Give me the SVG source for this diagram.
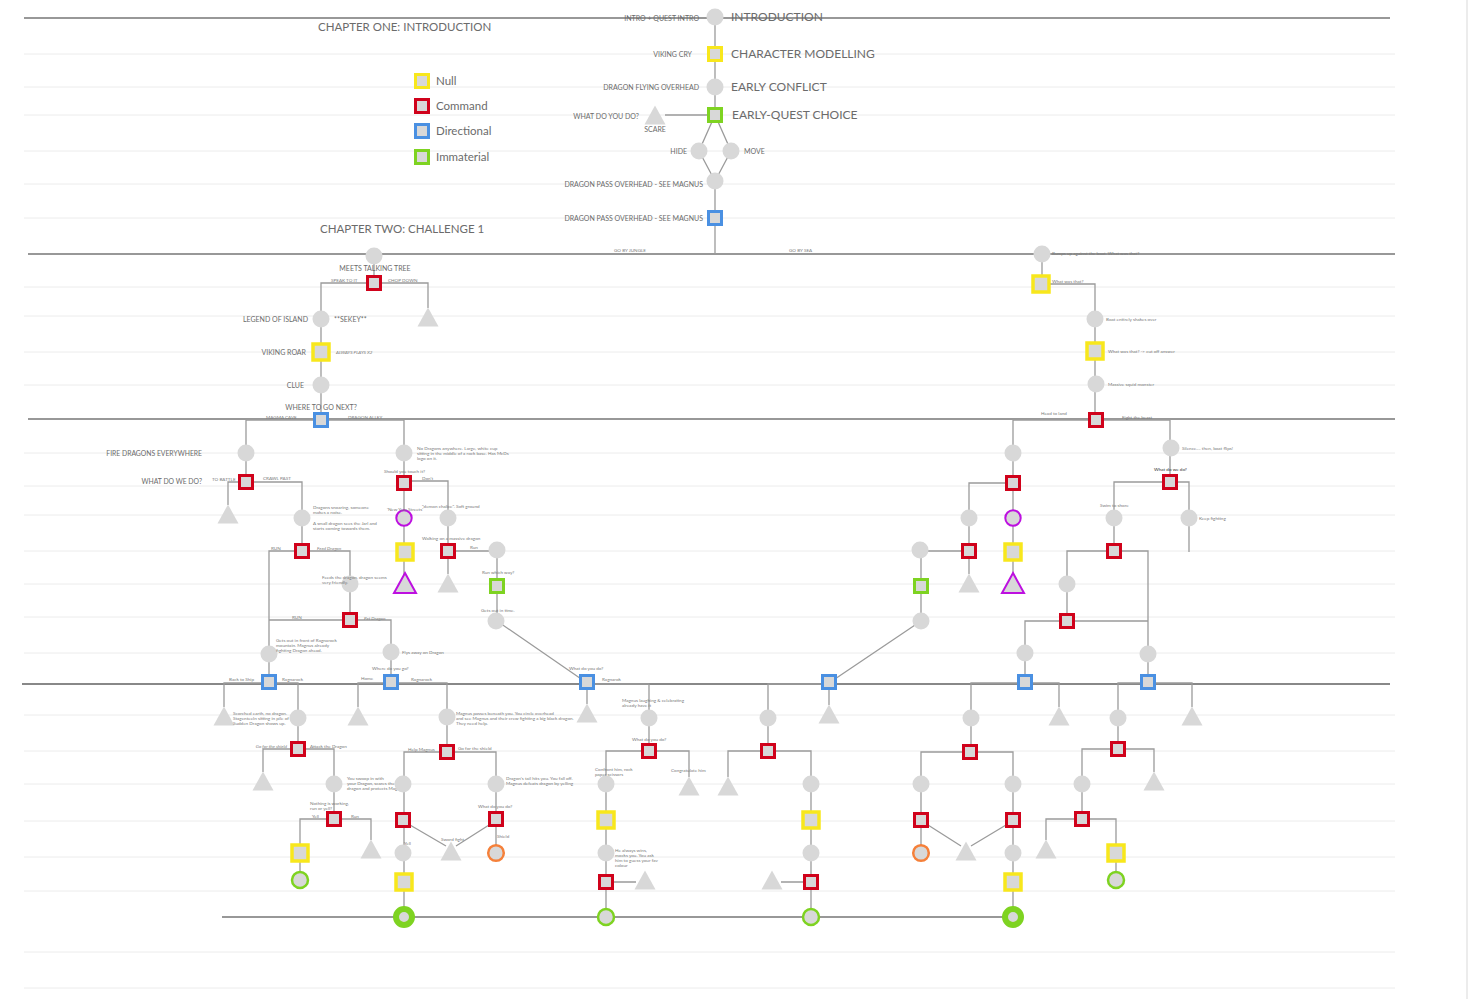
<svg xmlns="http://www.w3.org/2000/svg" width="1479" height="999" viewBox="0 0 1479 999">
<style>
.bg{fill:none;stroke:#ececec;stroke-width:1}
.dk{fill:none;stroke:#333;stroke-width:1.2}
.dg{fill:none;stroke:#888;stroke-width:1.8}
.c{fill:none;stroke:#9b9b9b;stroke-width:1.3}
.dot{fill:#d8d8d8}
.sq{fill:#d8d8d8;stroke-width:3}
.ysq{fill:#d8d8d8;stroke:#f8e71c;stroke-width:3.5}
.r{stroke:#d0021b}.b{stroke:#4a90e2}.g{stroke:#7ed321}.y{stroke:#f8e71c}
.tri{fill:#d8d8d8}
.pu{fill:#d8d8d8;stroke:#bd10e0;stroke-width:2}
.or{fill:#d8d8d8;stroke:#f5803a;stroke-width:2.5}
.gc{fill:#d8d8d8;stroke:#7ed321;stroke-width:2.5}
.gb{fill:#d8d8d8;stroke:#7ed321;stroke-width:6}
text{font-family:Lato,"Liberation Sans",sans-serif;fill:#6b6b6b}
.h{font-size:11.5px}
.hb{font-size:12px}
.m{font-size:7px}
.s{font-size:4.6px;fill:#7a7a7a}
.i{font-style:italic}
.e{text-anchor:end}
.mid{text-anchor:middle}
</style>
<defs>
<circle id="C" r="8.5"/>
<rect id="S" x="-6.5" y="-6.5" width="13" height="13"/>
<rect id="Y" x="-8" y="-8" width="16" height="16"/>
<polygon id="T" points="0,-9.5 10.5,9.5 -10.5,9.5"/>
</defs>
<rect width="1479" height="999" fill="#fff"/>
<g id="background">
<path class="bg" d="M24 54H1395M24 87H1395M24 115H1395M24 151H1395M24 184H1395M24 218H1395M24 287H1395M24 316H1395M24 352H1395M24 385H1395M24 453H1395M24 486H1395M24 515H1395M24 551H1395M24 584H1395M24 617H1395M24 653H1395M24 715H1395M24 751H1395M24 784H1395M24 821H1395M24 857H1395M24 891H1395M24 952H1395M24 988H1395"/>
<path d="M1467 0V999" stroke="#e6e6e6" stroke-width="1.5"/>
<path class="dk" d="M24 18H1390M28 254H1395M28 419H1395M222 917H1013"/>
<path class="dg" d="M22 684H1390"/>
<text class="h" x="318" y="31">CHAPTER ONE: INTRODUCTION</text>
<text class="h" x="320" y="233">CHAPTER TWO: CHALLENGE 1</text>
</g>
<g id="legend">
<use href="#S" class="sq y" x="422" y="81"/><text class="h" x="436" y="85">Null</text>
<use href="#S" class="sq r" x="422" y="106"/><text class="h" x="436" y="110">Command</text>
<use href="#S" class="sq b" x="422" y="131"/><text class="h" x="436" y="135">Directional</text>
<use href="#S" class="sq g" x="422" y="157"/><text class="h" x="436" y="161">Immaterial</text>
</g>
<g id="connectors">
<path class="c" d="M715 17V115M665 115H707M715 115L699 151L715 181M715 115L731 151L715 181M715 181V254"/>
<path class="c" d="M374 256V283M321 420V283H428V308"/>
<path class="c" d="M1042 254V284H1095V420"/>
<path class="c" d="M246 482V420H404V575"/>
<path class="c" d="M228 505V482H302V551"/>
<path class="c" d="M269 682V551H350V620"/>
<path class="c" d="M269 620H391V682"/>
<path class="c" d="M404 481H448V574"/>
<path class="c" d="M448 551H497V621L587 683"/>
<path class="c" d="M1013 575V420H1170V482"/>
<path class="c" d="M969 574V483H1013"/>
<path class="c" d="M921 621V551H969M921 621L829 683"/>
<path class="c" d="M1114 551V482H1189V552"/>
<path class="c" d="M1067 621V551H1148V682"/>
<path class="c" d="M1025 682V621H1148"/>
<path class="c" d="M224 707V683H298V749"/>
<path class="c" d="M263 772V749H334V819"/>
<path class="c" d="M300 880V819H371V840"/>
<path class="c" d="M358 707V683H447V752"/>
<path class="c" d="M404 917V752H496V853"/>
<path class="c" d="M410 825L446 846M489 825L456 846"/>
<path class="c" d="M587 682V704M587 684H649V751"/>
<path class="c" d="M689 777V751H606V917M606 882H636"/>
<path class="c" d="M829 682V705M829 684H768V751"/>
<path class="c" d="M728 777V751H811V917M811 882H781"/>
<path class="c" d="M1059 707V683H971V752"/>
<path class="c" d="M921 853V752H1013V917"/>
<path class="c" d="M928 825L961 846M1006 825L971 846"/>
<path class="c" d="M1192 707V683H1118V749"/>
<path class="c" d="M1154 772V749H1082V819"/>
<path class="c" d="M1046 840V819H1116V880"/>
</g>
<g id="nodes">
<g id="intro"><use href="#C" class="dot" x="715" y="17"/><text class="m e" x="699" y="20.5">INTRO + QUEST INTRO</text><text class="hb" x="731" y="21">INTRODUCTION</text></g>
<g id="charmod"><use href="#S" class="sq y" x="715" y="54"/><text class="m e" x="692" y="56.5">VIKING CRY</text><text class="hb" x="731" y="58">CHARACTER MODELLING</text></g>
<g id="conflict"><use href="#C" class="dot" x="715" y="87"/><text class="m e" x="699" y="89.5">DRAGON FLYING OVERHEAD</text><text class="hb" x="731" y="91">EARLY CONFLICT</text></g>
<g id="choice"><use href="#S" class="sq g" x="715" y="115"/><text class="m e" x="639" y="118.5">WHAT DO YOU DO?</text><text class="hb" x="732" y="119">EARLY-QUEST CHOICE</text></g>
<g id="scare"><use href="#T" class="tri" x="655" y="115"/><text class="m mid" x="655" y="131.5">SCARE</text></g>
<g id="hide"><use href="#C" class="dot" x="699" y="151"/><text class="m e" x="687" y="154">HIDE</text></g>
<g id="move"><use href="#C" class="dot" x="731" y="151"/><text class="m" x="744" y="154">MOVE</text></g>
<g id="pass1"><use href="#C" class="dot" x="715" y="181"/><text class="m e" x="703" y="186.5">DRAGON PASS OVERHEAD - SEE MAGNUS</text></g>
<g id="pass2"><use href="#S" class="sq b" x="715" y="218"/><text class="m e" x="703" y="220.5">DRAGON PASS OVERHEAD - SEE MAGNUS</text></g>

<g id="tree0"><use href="#C" class="dot" x="374" y="256"/><text class="m mid" x="375" y="271">MEETS TALKING TREE</text></g>
<g id="tree"><use href="#S" class="sq r" x="374" y="283"/></g>
<g id="chop"><use href="#T" class="tri" x="428" y="317"/></g>
<g id="legend1"><use href="#C" class="dot" x="321" y="319"/><text class="m e" x="308" y="321.5">LEGEND OF ISLAND</text><text class="m" x="334" y="321.5">**SEKEY**</text></g>
<g id="roar"><use href="#Y" class="ysq" x="321" y="352"/><text class="m e" x="306" y="355">VIKING ROAR</text><text class="s i" x="336" y="354">ALWAYS PLAYS X2</text></g>
<g id="clue"><use href="#C" class="dot" x="321" y="385"/><text class="m e" x="304" y="387.5">CLUE</text></g>
<g id="where"><use href="#S" class="sq b" x="321" y="420"/><text class="m mid" x="321" y="409.5">WHERE TO GO NEXT?</text></g>

<g id="bumps"><use href="#C" class="dot" x="1042" y="254"/><text class="s" x="1052" y="255">Bumps up against the boat. What was that?</text></g>
<g id="wwt1"><use href="#Y" class="ysq" x="1041" y="284"/><text class="s" x="1052" y="283">What was that?</text></g>
<g id="shakes"><use href="#C" class="dot" x="1095" y="319"/><text class="s" x="1106" y="321">Boat entirely shakes over</text></g>
<g id="wwt2"><use href="#Y" class="ysq" x="1095" y="351"/><text class="s" x="1108" y="353">What was that? -&gt; cut off answer</text></g>
<g id="squid"><use href="#C" class="dot" x="1096" y="384"/><text class="s" x="1108" y="386">Massive squid monster</text></g>
<g id="beast"><use href="#S" class="sq r" x="1096" y="420"/></g>

<g id="fire"><use href="#C" class="dot" x="246" y="453"/><text class="m e" x="202" y="455.5" style="font-size:6.8px">FIRE DRAGONS EVERYWHERE</text></g>
<g id="wdwd"><use href="#S" class="sq r" x="246" y="482"/><text class="m e" x="202" y="483.5" style="font-size:6.8px">WHAT DO WE DO?</text></g>
<g id="battle"><use href="#T" class="tri" x="228" y="514"/></g>
<g id="snoar"><use href="#C" class="dot" x="302" y="518"/><text class="s" x="313" y="509">Dragons snoaring, someone</text><text class="s" x="313" y="514">makes a noise.</text><text class="s" x="313" y="525">A small dragon sees the Jarl and</text><text class="s" x="313" y="530">starts coming towards them.</text></g>
<g id="feedq"><use href="#S" class="sq r" x="302" y="551"/></g>
<g id="feeds"><use href="#C" class="dot" x="350" y="584"/><text class="s" x="322" y="579">Feeds the dragon, dragon seems</text><text class="s" x="322" y="584">very friendly.</text></g>
<g id="petq"><use href="#S" class="sq r" x="350" y="620"/></g>
<g id="getsout"><use href="#C" class="dot" x="269" y="654"/><text class="s" x="276" y="642">Gets out in front of Ragnarock</text><text class="s" x="276" y="647">mountain. Magnus already</text><text class="s" x="276" y="652">fighting Dragon ahead.</text></g>
<g id="flys"><use href="#C" class="dot" x="391" y="652"/><text class="s" x="402" y="654">Flys away on Dragon</text></g>

<g id="cup"><use href="#C" class="dot" x="404" y="453"/><text class="s" x="417" y="450">No Dragons anywhere. Large, white cup</text><text class="s" x="417" y="455">sitting in the middle of a rock base. Has McDs</text><text class="s" x="417" y="460">logo on it.</text></g>
<g id="touch"><use href="#S" class="sq r" x="404" y="483"/><text class="s" x="384" y="473">Should you touch it?</text></g>
<g id="newyear"><circle class="pu" cx="404" cy="518" r="7.7"/><text class="s" x="387" y="511">'New Year Streets'</text></g>
<g id="ny2"><use href="#Y" class="ysq" x="405" y="552"/></g>
<g id="ny3"><polygon class="pu" points="405,573 416,593 394,593"/></g>
<g id="chalice"><use href="#C" class="dot" x="448" y="518"/><text class="s" x="422" y="508">"demon chalice". Soft ground</text></g>
<g id="walking"><use href="#S" class="sq r" x="448" y="551"/><text class="s" x="422" y="540">Walking on a massive dragon</text></g>
<g id="walk2"><use href="#T" class="tri" x="448" y="583"/></g>
<g id="run1"><use href="#C" class="dot" x="497" y="550"/></g>
<g id="runway"><use href="#S" class="sq g" x="497" y="586"/><text class="s" x="482" y="574">Run which way?</text></g>
<g id="intime"><use href="#C" class="dot" x="496" y="621"/><text class="s" x="481" y="612">Gets out in time.</text></g>

<g id="s1"><use href="#C" class="dot" x="1013" y="453"/></g>
<g id="s2"><use href="#S" class="sq r" x="1013" y="483"/></g>
<g id="s3"><circle class="pu" cx="1013" cy="518" r="7.7"/></g>
<g id="s4"><use href="#Y" class="ysq" x="1013" y="552"/></g>
<g id="s5"><polygon class="pu" points="1013,573 1024,593 1002,593"/></g>
<g id="s6"><use href="#C" class="dot" x="969" y="518"/></g>
<g id="s7"><use href="#S" class="sq r" x="969" y="551"/></g>
<g id="s8"><use href="#T" class="tri" x="969" y="583"/></g>
<g id="s9"><use href="#C" class="dot" x="920" y="550"/></g>
<g id="s10"><use href="#S" class="sq g" x="921" y="586"/></g>
<g id="s11"><use href="#C" class="dot" x="921" y="621"/></g>
<g id="silence"><use href="#C" class="dot" x="1171" y="448"/><text class="s" x="1182" y="450">Silence.... then, boat flips!</text></g>
<g id="wdwd2"><use href="#S" class="sq r" x="1170" y="482"/><text class="s" x="1154" y="471" style="fill:#333">What do we do?</text></g>
<g id="swim"><use href="#C" class="dot" x="1114" y="518"/><text class="s" x="1100" y="507">Swim to shore</text></g>
<g id="keep"><use href="#C" class="dot" x="1189" y="518"/><text class="s" x="1199" y="520">Keep fighting</text></g>
<g id="s12"><use href="#S" class="sq r" x="1114" y="551"/></g>
<g id="s13"><use href="#C" class="dot" x="1067" y="584"/></g>
<g id="s14"><use href="#S" class="sq r" x="1067" y="621"/></g>
<g id="s15"><use href="#C" class="dot" x="1025" y="653"/></g>
<g id="s16"><use href="#C" class="dot" x="1148" y="654"/></g>

<g id="d1"><use href="#S" class="sq b" x="269" y="682"/></g>
<g id="d2"><use href="#S" class="sq b" x="391" y="682"/><text class="s" x="372" y="670">Where do you go?</text></g>
<g id="d3"><use href="#S" class="sq b" x="587" y="682"/><text class="s" x="569" y="670">What do you do?</text></g>
<g id="d4"><use href="#S" class="sq b" x="829" y="682"/></g>
<g id="d5"><use href="#S" class="sq b" x="1025" y="682"/></g>
<g id="d6"><use href="#S" class="sq b" x="1148" y="682"/></g>

<g id="a1"><use href="#T" class="tri" x="224" y="716"/><text class="s" x="233" y="715">Scorched earth, no dragon.</text><text class="s" x="233" y="720">Stagenteeln sitting in pile of ash.</text><text class="s" x="233" y="725">Sudden Dragon shows up.</text></g>
<g id="a2"><use href="#C" class="dot" x="298" y="718"/></g>
<g id="a3"><use href="#S" class="sq r" x="298" y="749"/></g>
<g id="a4"><use href="#T" class="tri" x="263" y="781"/></g>
<g id="a5"><use href="#C" class="dot" x="334" y="784"/><text class="s" x="347" y="780">You swoop in with</text><text class="s" x="347" y="785">your Dragon, scares the other</text><text class="s" x="347" y="790">dragon and protects Magnus.</text></g>
<g id="a6"><use href="#S" class="sq r" x="334" y="819"/><text class="s" x="310" y="805">Nothing is working,</text><text class="s" x="310" y="810">run or yell?</text></g>
<g id="a7"><use href="#Y" class="ysq" x="300" y="853"/></g>
<g id="a8"><circle class="gc" cx="300" cy="880" r="8"/></g>
<g id="a9"><use href="#T" class="tri" x="371" y="849"/></g>

<g id="b1"><use href="#T" class="tri" x="358" y="716"/></g>
<g id="b2"><use href="#C" class="dot" x="447" y="717"/><text class="s" x="456" y="715">Magnus passes beneath you. You circle overhead</text><text class="s" x="456" y="720">and see Magnus and their crew fighting a big black dragon.</text><text class="s" x="456" y="725">They need help.</text></g>
<g id="b3"><use href="#S" class="sq r" x="447" y="752"/></g>
<g id="b4"><use href="#C" class="dot" x="403" y="784"/></g>
<g id="b5"><use href="#S" class="sq r" x="403" y="820"/></g>
<g id="b6"><use href="#C" class="dot" x="403" y="853"/><text class="s" x="404" y="845">Yell</text></g>
<g id="b7"><use href="#Y" class="ysq" x="404" y="882"/></g>
<g id="b8"><circle class="gb" cx="404" cy="917" r="8"/></g>
<g id="b9"><use href="#C" class="dot" x="496" y="784"/><text class="s" x="506" y="780">Dragon's tail hits you. You fall off.</text><text class="s" x="506" y="785">Magnus defeats dragon by yelling</text></g>
<g id="b10"><use href="#S" class="sq r" x="496" y="819"/><text class="s" x="478" y="808">What do you do?</text></g>
<g id="b11"><circle class="or" cx="496" cy="853" r="7.8"/><text class="s" x="497" y="838">Shield</text></g>
<g id="b12"><use href="#T" class="tri" x="451" y="851"/><text class="s" x="441" y="841">Sword fight</text></g>

<g id="c1"><use href="#T" class="tri" x="587" y="713"/></g>
<g id="c2"><use href="#C" class="dot" x="649" y="718"/><text class="s" x="622" y="702">Magnus laughing &amp; celebrating</text><text class="s" x="622" y="707">already have it</text></g>
<g id="c3"><use href="#S" class="sq r" x="649" y="751"/><text class="s" x="632" y="741">What do you do?</text></g>
<g id="c4"><use href="#T" class="tri" x="689" y="786"/><text class="s" x="671" y="772">Congratulate him</text></g>
<g id="c5"><use href="#C" class="dot" x="606" y="784"/><text class="s" x="595" y="771">Confront him, rock</text><text class="s" x="595" y="776">paper scissors</text></g>
<g id="c6"><use href="#Y" class="ysq" x="606" y="820"/></g>
<g id="c7"><use href="#C" class="dot" x="606" y="853"/><text class="s" x="615" y="852">He always wins,</text><text class="s" x="615" y="857">mocks you. You ask</text><text class="s" x="615" y="862">him to guess your fav</text><text class="s" x="615" y="867">colour</text></g>
<g id="c8"><use href="#S" class="sq r" x="606" y="882"/></g>
<g id="c9"><use href="#T" class="tri" x="645" y="880"/></g>
<g id="c10"><circle class="gc" cx="606" cy="917" r="8"/></g>

<g id="e1"><use href="#T" class="tri" x="829" y="714"/></g>
<g id="e2"><use href="#C" class="dot" x="768" y="718"/></g>
<g id="e3"><use href="#S" class="sq r" x="768" y="751"/></g>
<g id="e4"><use href="#T" class="tri" x="728" y="786"/></g>
<g id="e5"><use href="#C" class="dot" x="811" y="784"/></g>
<g id="e6"><use href="#Y" class="ysq" x="811" y="820"/></g>
<g id="e7"><use href="#C" class="dot" x="811" y="853"/></g>
<g id="e8"><use href="#S" class="sq r" x="811" y="882"/></g>
<g id="e9"><use href="#T" class="tri" x="772" y="880"/></g>
<g id="e10"><circle class="gc" cx="811" cy="917" r="8"/></g>

<g id="f1"><use href="#T" class="tri" x="1059" y="716"/></g>
<g id="f2"><use href="#C" class="dot" x="971" y="718"/></g>
<g id="f3"><use href="#S" class="sq r" x="970" y="752"/></g>
<g id="f4"><use href="#C" class="dot" x="921" y="784"/></g>
<g id="f5"><use href="#S" class="sq r" x="921" y="820"/></g>
<g id="f6"><circle class="or" cx="921" cy="853" r="7.8"/></g>
<g id="f7"><use href="#T" class="tri" x="966" y="851"/></g>
<g id="f8"><use href="#C" class="dot" x="1013" y="784"/></g>
<g id="f9"><use href="#S" class="sq r" x="1013" y="820"/></g>
<g id="f10"><use href="#C" class="dot" x="1013" y="853"/></g>
<g id="f11"><use href="#Y" class="ysq" x="1013" y="882"/></g>
<g id="f12"><circle class="gb" cx="1013" cy="917" r="8"/></g>

<g id="h1"><use href="#T" class="tri" x="1192" y="716"/></g>
<g id="h2"><use href="#C" class="dot" x="1118" y="718"/></g>
<g id="h3"><use href="#S" class="sq r" x="1118" y="749"/></g>
<g id="h4"><use href="#T" class="tri" x="1154" y="781"/></g>
<g id="h5"><use href="#C" class="dot" x="1082" y="784"/></g>
<g id="h6"><use href="#S" class="sq r" x="1082" y="819"/></g>
<g id="h7"><use href="#T" class="tri" x="1046" y="849"/></g>
<g id="h8"><use href="#Y" class="ysq" x="1116" y="853"/></g>
<g id="h9"><circle class="gc" cx="1116" cy="880" r="8"/></g>
</g>
<g id="edge-labels">
<text class="s" x="614" y="252">GO BY JUNGLE</text>
<text class="s" x="789" y="252">GO BY SEA</text>
<text class="s" x="331" y="282">SPEAK TO IT</text>
<text class="s" x="388" y="282">CHOP DOWN</text>
<text class="s" x="266" y="419">MAGMA CAVE</text>
<text class="s" x="348" y="419">DRAGON ALLEY</text>
<text class="s" x="1041" y="415">Head to land</text>
<text class="s" x="1122" y="419">Fight the beast</text>
<text class="s" x="212" y="481">TO BATTLE</text>
<text class="s" x="263" y="480">CRAWL PAST</text>
<text class="s" x="271" y="550">RUN</text>
<text class="s i" x="317" y="550">Feed Dragon</text>
<text class="s" x="292" y="619">RUN</text>
<text class="s i" x="364" y="620">Pet Dragon</text>
<text class="s" x="422" y="480">Don't</text>
<text class="s" x="470" y="549">Run</text>
<text class="s" x="602" y="681">Ragnarok</text>
<text class="s" x="361" y="680">Home</text>
<text class="s" x="411" y="681">Ragnarock</text>
<text class="s" x="229" y="681">Back to Ship</text>
<text class="s" x="282" y="681">Ragnarock</text>
<text class="s i e" x="287" y="748">Go for the shield</text>
<text class="s" x="310" y="748">Attack the Dragon</text>
<text class="s" x="312" y="818">Yell</text>
<text class="s" x="351" y="818">Run</text>
<text class="s" x="408" y="751">Help Magnus</text>
<text class="s" x="458" y="750">Go for the shield</text>
</g>
</svg>
